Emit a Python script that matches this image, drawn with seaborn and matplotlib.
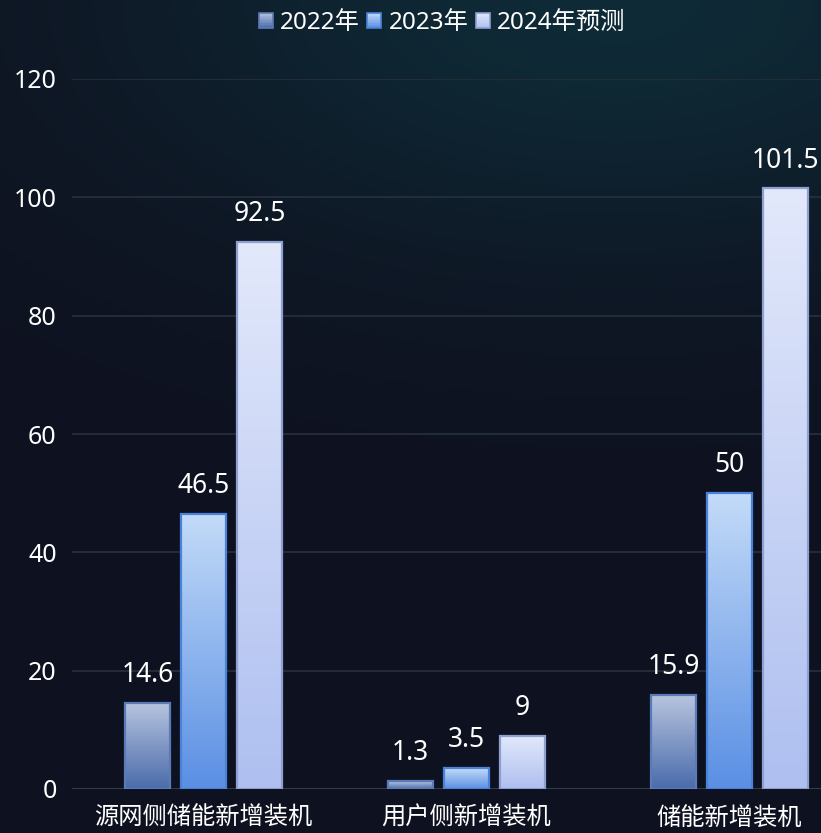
import numpy as np
import pandas as pd
import matplotlib
matplotlib.use("Agg")
import matplotlib.pyplot as plt
import seaborn as sns
from matplotlib.colors import to_rgb
from matplotlib.legend_handler import HandlerBase
from matplotlib.patches import Rectangle

categories = ["源网侧储能新增装机", "用户侧新增装机", "储能新增装机"]
series = ["2022年", "2023年", "2024年预测"]
values_2022 = [14.6, 1.3, 15.9]
values_2023 = [46.5, 3.5, 50]
values_2024 = [92.5, 9, 101.5]
y_ticks = [0, 20, 40, 60, 80, 100, 120]

# top colour, bottom colour, edge colour for each series
gradients = {
    "2022年": ("#b8c5df", "#4a6bab", "#5b7bb8"),
    "2023年": ("#c3dbf8", "#5a8fe4", "#4b82d9"),
    "2024年预测": ("#e3e9fb", "#aebff0", "#8e9fd2"),
}

df = pd.DataFrame({
    "category": categories * 3,
    "series": [s for s in series for _ in categories],
    "value": values_2022 + values_2023 + values_2024,
})

sns.set_theme(style="dark")
plt.rcParams["font.family"] = ["Noto Sans", "Noto Sans CJK SC", "DejaVu Sans"]

W, H = 821, 833
fig = plt.figure(figsize=(W / 100, H / 100), dpi=100)

# dark navy backdrop with a faint teal glow towards the top right
bg = fig.add_axes([0, 0, 1, 1], zorder=-10)
bg.set_axis_off()
yy, xx = np.mgrid[0:1:300j, 0:1:300j]
navy = np.array(to_rgb("#0e1220"))
teal = np.array(to_rgb("#0f2c38"))
w = np.exp(-(((xx - 0.75) / 0.6) ** 2 + (yy / 0.3) ** 2))
w = np.clip(w * 0.95, 0, 1)[..., None]
img = navy * (1 - w) + teal * w
bg.imshow(img, extent=[0, 1, 0, 1], aspect="auto", origin="upper")
bg.set_xlim(0, 1)
bg.set_ylim(0, 1)

ax = fig.add_axes([72 / W, 44 / H, 789 / W, 710 / H])
ax.set_facecolor("none")

sns.barplot(data=df, x="category", y="value", hue="series", order=categories,
            hue_order=series, width=0.64, gap=0.2, ax=ax, legend=False)

ax.set_xlim(-0.5, 2.5)
ax.set_ylim(0, 120)

for level, container in zip(series, ax.containers):
    top, bottom, edge = gradients[level]
    grad = np.linspace(0, 1, 256)[:, None]
    c_top, c_bot = np.array(to_rgb(top)), np.array(to_rgb(bottom))
    strip = (c_top * (1 - grad) + c_bot * grad)[:, None, :].repeat(2, axis=1)
    for bar in container:
        x0, w_ = bar.get_x(), bar.get_width()
        h_ = bar.get_height()
        bar.set_facecolor("none")
        bar.set_edgecolor(edge)
        bar.set_linewidth(1.6)
        bar.set_zorder(3)
        im = ax.imshow(strip, extent=[x0, x0 + w_, 0, h_], aspect="auto",
                       origin="upper", zorder=2)
        im.set_clip_path(bar)
        ax.annotate(f"{h_:g}", (x0 + w_ / 2, h_), xytext=(0, 10),
                    textcoords="offset points", ha="center", va="bottom",
                    color="white", fontsize=19, zorder=4, annotation_clip=False)

ax.set_xlim(-0.5, 2.5)
ax.set_ylim(0, 120)
ax.set_yticks(y_ticks)
ax.set_xlabel("")
ax.set_ylabel("")
for s in ax.spines.values():
    s.set_visible(False)
ax.grid(False)
for t in y_ticks:
    ax.axhline(t, color="#3a414e" if t == 0 else "#262e3b", lw=1.3, zorder=1)
ax.tick_params(axis="y", length=0, pad=11, labelsize=18, labelcolor="white")
ax.tick_params(axis="x", length=0, pad=13, labelsize=17.5, labelcolor="white")


class GradientSquare(HandlerBase):
    def create_artists(self, legend, orig_handle, xdescent, ydescent,
                       width, height, fontsize, trans):
        top, bottom, edge = gradients[orig_handle.get_label()]
        c_top, c_bot = np.array(to_rgb(top)), np.array(to_rgb(bottom))
        n = 10
        artists = []
        for i in range(n):
            f = (i + 0.5) / n
            col = c_top * (1 - f) + c_bot * f
            r = Rectangle((-xdescent, -ydescent + height * (1 - (i + 1) / n)),
                          width, height / n + 0.2, facecolor=col,
                          edgecolor="none", transform=trans)
            artists.append(r)
        artists.append(Rectangle((-xdescent, -ydescent), width, height,
                                 facecolor="none", edgecolor=edge, lw=1.2,
                                 transform=trans))
        return artists


handles = [Rectangle((0, 0), 1, 1, label=s) for s in series]
fig.legend(handles=handles, labels=series, loc="center",
           bbox_to_anchor=(442 / W, 1 - 23 / H), ncol=3, frameon=False,
           fontsize=17.5, labelcolor="white", handlelength=0.58,
           handleheight=0.58, handletextpad=0.3, columnspacing=0.3,
           handler_map={Rectangle: GradientSquare()})

fig.savefig("out.png", dpi=100)
